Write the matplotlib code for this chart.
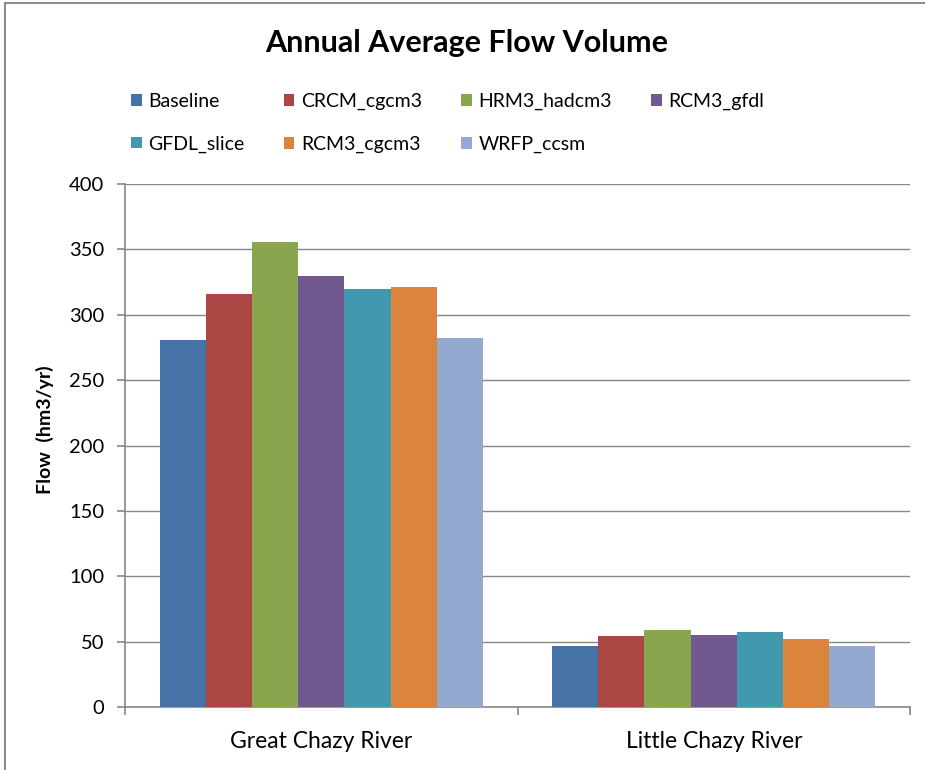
import numpy as np
import matplotlib
matplotlib.use("Agg")
import matplotlib.pyplot as plt
from matplotlib.patches import Patch

plt.rcParams["font.family"] = ["Lato", "DejaVu Sans"]

RIVERS = ["Great Chazy River", "Little Chazy River"]
SCENARIOS = ["Baseline", "CRCM_cgcm3", "HRM3_hadcm3", "RCM3_gfdl",
             "GFDL_slice", "RCM3_cgcm3", "WRFP_ccsm"]
GREAT_CHAZY = [281, 316, 356, 330, 320, 321, 282]
LITTLE_CHAZY = [47, 54, 59, 55, 57, 52, 47]
COLORS = ["#4572A7", "#AA4643", "#89A54E", "#71588F",
          "#4198AF", "#DB843D", "#93A9CF"]

W, H = 925, 770
fig = plt.figure(figsize=(W / 100, H / 100), dpi=100)
# plot area in pixels: x 125..910, y 184..707
ax = fig.add_axes([125 / W, (H - 707) / H, (910 - 125) / W, (707 - 184) / H])

values = np.array([GREAT_CHAZY, LITTLE_CHAZY])
n = len(SCENARIOS)
group_w = 0.824
bw = group_w / n
x = np.arange(len(RIVERS))
for i in range(n):
    ax.bar(x - group_w / 2 + bw * (i + 0.5), values[:, i], width=bw,
           color=COLORS[i], linewidth=0, zorder=3, label=SCENARIOS[i])

ax.set_xlim(-0.5, 1.5)
ax.set_ylim(0, 400)
ax.set_yticks(range(0, 401, 50))
ax.yaxis.grid(True, color="#878787", linewidth=1.0, zorder=0)
for s in ["top", "right"]:
    ax.spines[s].set_visible(False)
for s in ["left", "bottom"]:
    ax.spines[s].set_color("#878787")
    ax.spines[s].set_linewidth(1.2)

# category ticks sit between groups; labels centred on groups
ax.set_xticks([-0.5, 0.5, 1.5])
ax.set_xticklabels([])
ax.set_xticks(x, minor=True)
ax.set_xticklabels(RIVERS, minor=True, fontsize=16.5)
ax.tick_params(axis="x", which="major", direction="out", length=6,
               color="#878787", width=1.2)
ax.tick_params(axis="x", which="minor", length=0, pad=17, labelcolor="#000000")
ax.tick_params(axis="y", direction="out", length=6, color="#878787", width=1.2,
               labelsize=14.5, pad=9)

ax.set_ylabel("Flow  (hm3/yr)", fontsize=14, fontweight="bold")
ax.yaxis.set_label_coords(-0.09, 0.53)

fig.text(467 / W, 1 - 43 / H, "Annual Average Flow Volume", ha="center",
         va="center", fontsize=22, fontweight="bold")

# legend rows: fill row-wise like Excel
order = [0, 4, 1, 5, 2, 6, 3]
handles = [Patch(facecolor=COLORS[i], edgecolor="none") for i in order]
labels = [SCENARIOS[i] for i in order]
fig.legend(handles, labels, ncol=4, loc="upper left",
           bbox_to_anchor=(131 / W, 1 - 93 / H), frameon=False,
           fontsize=14, handlelength=0.55, handleheight=0.55,
           handletextpad=0.35, columnspacing=2.0, labelspacing=1.3,
           borderpad=0, borderaxespad=0)

# outer chart border (top and left visible)
fig.add_artist(plt.Line2D([5 / W, 5 / W], [0, 1 - 3 / H], color="#8c8c8c",
                          linewidth=1.5, transform=fig.transFigure))
fig.add_artist(plt.Line2D([5 / W, 1], [1 - 3 / H, 1 - 3 / H], color="#8c8c8c",
                          linewidth=1.5, transform=fig.transFigure))

fig.savefig("out.png", dpi=100)
